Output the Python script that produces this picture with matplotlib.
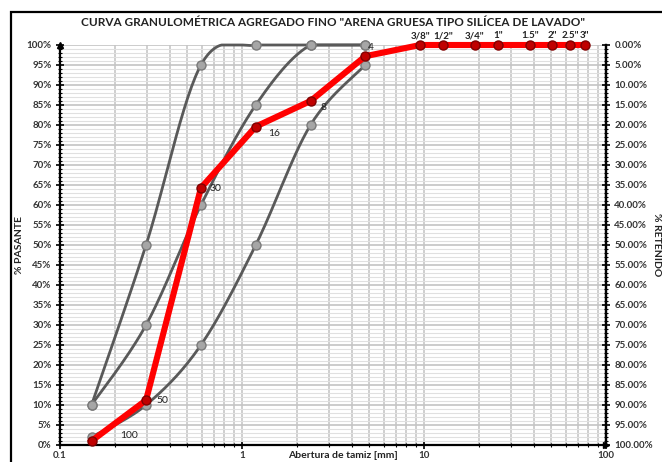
import matplotlib
matplotlib.use('Agg')
import matplotlib.pyplot as plt
import numpy as np
from matplotlib.ticker import MultipleLocator, FixedLocator, FuncFormatter, NullFormatter, LogLocator
from matplotlib.patches import Rectangle

plt.rcParams['font.family'] = ['Lato', 'DejaVu Sans']

# sieve series and measured passing percentages
sieves = ['100', '50', '30', '16', '8', '4', '3/8"', '1/2"', '3/4"', '1"', '1.5"', '2"', '2.5"', '3"']
opening_mm = [0.149, 0.297, 0.595, 1.19, 2.38, 4.76, 9.525, 12.7, 19.05, 25.4, 38.1, 50.8, 63.5, 76.2]
passing = [1.0, 11.2, 64.3, 79.6, 86.0, 97.2, 100, 100, 100, 100, 100, 100, 100, 100]

# gradation limit curves
limit_mm = [0.149, 0.297, 0.595, 1.19, 2.38, 4.76]
limit_fine = [10, 50, 95, 100, 100, 100]
limit_upper = [10, 30, 60, 85, 100, 100]
limit_lower = [2, 10, 25, 50, 80, 95]

W, H = 662, 462
PX_DEC, PX_PCT = 182.0, 4.0


def smooth(xs, ys, n=30):
    # catmull-rom through the points, computed in screen-like units
    u = np.log10(xs) * PX_DEC
    v = np.asarray(ys, float) * PX_PCT
    p = np.column_stack([u, v])
    p = np.vstack([p[0], p, p[-1]])
    t = np.linspace(0, 1, n)[:, None]
    segs = []
    for i in range(1, len(p) - 2):
        p0, p1, p2, p3 = p[i - 1], p[i], p[i + 1], p[i + 2]
        segs.append(0.5 * (2 * p1 + (-p0 + p2) * t
                           + (2 * p0 - 5 * p1 + 4 * p2 - p3) * t ** 2
                           + (-p0 + 3 * p1 - 3 * p2 + p3) * t ** 3))
    s = np.vstack(segs)
    return 10 ** (s[:, 0] / PX_DEC), np.clip(s[:, 1] / PX_PCT, 0, 100)


fig = plt.figure(figsize=(W / 100, H / 100), dpi=100)
fig.patches.append(Rectangle((11 / W, -0.2), 1.2, 1.2 - 12 / H,
                             transform=fig.transFigure, fill=False,
                             edgecolor='black', lw=1.6))
ax = fig.add_axes([60 / W, 17 / H, 546 / W, 400 / H])
ax.set_xscale('log')
ax.set_xlim(0.1, 100)
ax.set_ylim(0, 100)

ax.xaxis.set_major_locator(FixedLocator([0.1, 1, 10, 100]))
ax.xaxis.set_major_formatter(FuncFormatter(lambda v, p: f'{v:g}'))
ax.xaxis.set_minor_locator(LogLocator(base=10, subs=np.arange(2, 10)))
ax.xaxis.set_minor_formatter(NullFormatter())
ax.yaxis.set_major_locator(MultipleLocator(5))
ax.yaxis.set_minor_locator(MultipleLocator(1))
ax.yaxis.set_major_formatter(FuncFormatter(lambda v, p: f'{v:.0f}%'))

ax.grid(which='minor', axis='y', color='#e0e0e0', lw=0.8)
ax.grid(which='major', axis='y', color='#c4c4c4', lw=1.2)
ax.grid(which='both', axis='x', color='#cccccc', lw=1.3)
ax.set_axisbelow(True)

for side in ['left', 'bottom', 'right']:
    ax.spines[side].set_linewidth(1.6)
ax.spines['top'].set_visible(False)
ax.tick_params(which='major', direction='inout', length=6, width=1.2,
               labelsize=7, colors='black', pad=3)
ax.tick_params(which='minor', direction='inout', length=3, width=0.8)
ax.tick_params(axis='x', which='major', pad=1)
for lab in ax.get_xticklabels() + ax.get_yticklabels():
    lab.set_fontweight('bold')
    lab.set_color('#333333')

ax2 = ax.twinx()
ax2.set_ylim(100, 0)
ax2.yaxis.set_major_locator(MultipleLocator(5))
ax2.yaxis.set_minor_locator(MultipleLocator(1))
ax2.yaxis.set_major_formatter(FuncFormatter(lambda v, p: f'{v:.2f}%'))
ax2.tick_params(which='major', direction='inout', length=6, width=1.2, labelsize=7, pad=3)
ax2.tick_params(which='minor', direction='inout', length=3, width=0.8)
for lab in ax2.get_yticklabels():
    lab.set_fontweight('bold')
    lab.set_color('#333333')
for s in ax2.spines.values():
    s.set_visible(False)
ax2.spines['right'].set_visible(True)
ax2.spines['right'].set_linewidth(1.6)

# axis arrows
ax.plot([0], [1], marker='^', color='black', ms=5, transform=ax.transAxes, clip_on=False, zorder=6)
ax.plot([1], [0], marker='>', color='black', ms=5, transform=ax.transAxes, clip_on=False, zorder=6)

# limit curves
for ys in (limit_fine, limit_upper, limit_lower):
    sx, sy = smooth(limit_mm, ys)
    ax.plot(sx, sy, color='#595959', lw=2.0, clip_on=False, zorder=3, solid_capstyle='round')
for ys in (limit_fine, limit_upper, limit_lower):
    ax.plot(limit_mm, ys, ls='none', marker='o', ms=6.5, mfc='#a6a6a6', mec='#7a7a7a',
            mew=1.0, clip_on=False, zorder=4)

# sample curve
ax.plot(opening_mm, passing, color='#ff0000', lw=4.4, clip_on=False, zorder=5,
        solid_joinstyle='round')
ax.plot(opening_mm, passing, ls='none', marker='o', ms=6.5, mfc='#c00000', mec='#7f0000',
        mew=1.0, clip_on=False, zorder=6)

label_offsets = {'100': (38, 6, 'center'), '50': (10, 0, 'left'), '30': (9, -1, 'left'),
                 '16': (12, -7, 'left'), '8': (10, -7, 'left'), '4': (3, 9, 'left')}
for name, x, y in zip(sieves, opening_mm, passing):
    if name in label_offsets:
        dx, dy, ha = label_offsets[name]
        ax.annotate(name, (x, y), xytext=(dx, dy), textcoords='offset pixels',
                    ha=ha, va='center', fontsize=7.5, color='#222222', zorder=7)
    else:
        ax.annotate(name, (x, y), xytext=(0, 9), textcoords='offset pixels',
                    ha='center', va='center', fontsize=7, fontweight='bold',
                    color='#222222', zorder=7)

fig.text(333 / W, 1 - 22 / H, 'CURVA GRANULOMÉTRICA AGREGADO FINO "ARENA GRUESA TIPO SILÍCEA DE LAVADO"',
         ha='center', va='center', fontsize=8.5, fontweight='bold', color='#222222')
fig.text(343 / W, 1 - 455 / H, 'Abertura de tamiz [mm]', ha='center', va='center',
         fontsize=7.5, fontweight='bold', color='#222222')
fig.text(20 / W, 1 - 245 / H, '% PASANTE', rotation=90, ha='center', va='center',
         fontsize=7.5, fontweight='bold', color='#222222')
fig.text(656 / W, 1 - 245 / H, '% RETENIDO', rotation=270, ha='center', va='center',
         fontsize=7.5, fontweight='bold', color='#222222')

fig.savefig('out.png', dpi=100)
